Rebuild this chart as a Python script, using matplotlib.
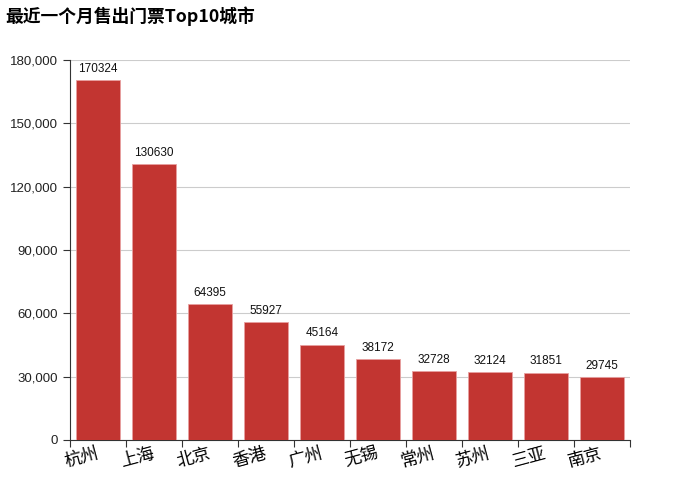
import numpy as np
import matplotlib
matplotlib.use("Agg")
import matplotlib.pyplot as plt
from matplotlib.ticker import FuncFormatter

plt.rcParams['font.family'] = ['Liberation Sans', 'Noto Sans CJK SC', 'DejaVu Sans']

cities = ["杭州", "上海", "北京", "香港", "广州", "无锡", "常州", "苏州", "三亚", "南京"]
tickets = [170324, 130630, 64395, 55927, 45164, 38172, 32728, 32124, 31851, 29745]
yticks = [0, 30000, 60000, 90000, 120000, 150000, 180000]

fig = plt.figure(figsize=(7, 5), dpi=100)
ax = fig.add_axes([0.1, 0.12, 0.8, 0.76])

x = np.arange(len(cities))
bars = ax.bar(x, tickets, width=0.79, color="#c23531", edgecolor="#e8a0a0", linewidth=0.6, zorder=3)
for xi, v in zip(x, tickets):
    ax.text(xi, v + 2500, str(v), ha="center", va="bottom", fontsize=8.5, color="#111111")

ax.set_xlim(-0.5, len(cities) - 0.5)
ax.set_ylim(0, 180000)
ax.set_yticks(yticks)
ax.yaxis.set_major_formatter(FuncFormatter(lambda v, p: "{:,}".format(int(v))))
ax.grid(axis="y", color="#cccccc", linewidth=0.8, zorder=0)

# ticks on band edges, labels at band centres
ax.set_xticks(np.arange(len(cities) + 1) - 0.5)
ax.set_xticklabels([])
ax.set_xticks(x - 0.04, minor=True)
ax.set_xticklabels(cities, minor=True, rotation=15, ha="right", rotation_mode="anchor",
                   fontsize=12.5, family=['Noto Sans CJK SC', 'DejaVu Sans'])
ax.tick_params(axis="x", which="minor", length=0, pad=3)
ax.tick_params(axis="x", which="major", length=5, color="#333333")
ax.tick_params(axis="y", length=5, color="#333333", labelsize=9.5, labelcolor="#222222")

for s in ["top", "right"]:
    ax.spines[s].set_visible(False)
ax.spines["left"].set_color("#333333")
ax.spines["bottom"].set_color("#333333")

fig.text(0.008, 0.968, "最近一个月售出门票Top10城市", fontsize=12.8, fontweight="bold",
         va="center", ha="left", family=['Noto Sans CJK SC', 'DejaVu Sans'])

fig.savefig("out.png", dpi=100)
